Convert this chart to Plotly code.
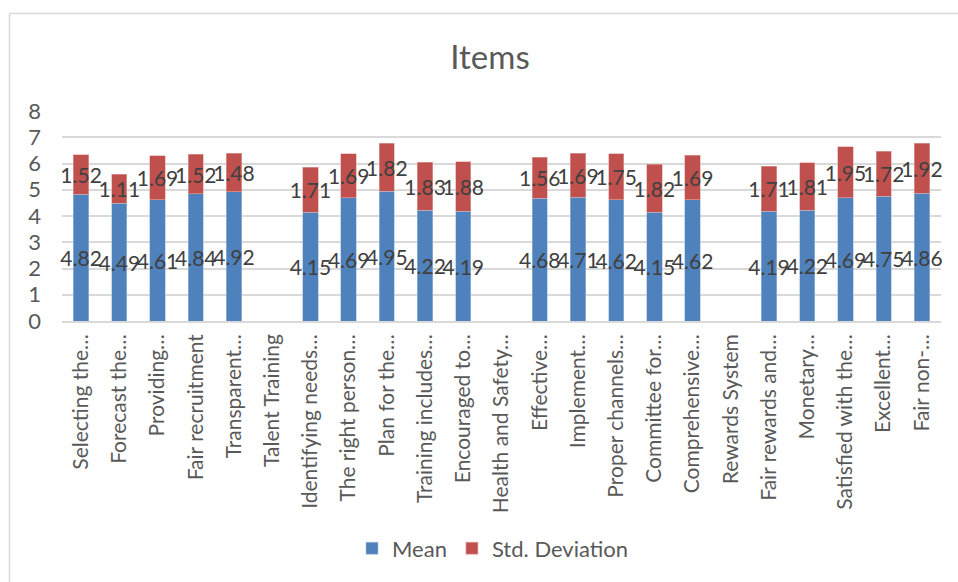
import plotly.graph_objects as go

categories = [
    "Selecting the…", "Forecast the…", "Providing…", "Fair recruitment", "Transparent…",
    "Talent Training", "Identifying needs…", "The right person…", "Plan for the…",
    "Training includes…", "Encouraged to…", "Health and Safety…", "Effective…",
    "Implement…", "Proper channels…", "Committee for…", "Comprehensive…",
    "Rewards System", "Fair rewards and…", "Monetary…", "Satisfied with the…",
    "Excellent…", "Fair non-…",
]
mean = [4.82, 4.49, 4.61, 4.84, 4.92, None, 4.15, 4.69, 4.95, 4.22, 4.19, None,
        4.68, 4.71, 4.62, 4.15, 4.62, None, 4.19, 4.22, 4.69, 4.75, 4.86]
std_dev = [1.52, 1.11, 1.69, 1.52, 1.48, None, 1.71, 1.69, 1.82, 1.83, 1.88, None,
           1.56, 1.69, 1.75, 1.82, 1.69, None, 1.71, 1.81, 1.95, 1.72, 1.92]
y_ticks = [0, 1, 2, 3, 4, 5, 6, 7, 8]

W, H = 958, 582
L, R, T, B = 62, 941, 110.5, 321.5

FONT = "Lato"
LABEL_COLOR = "#404040"
AXIS_COLOR = "#595959"
GRID = "#D9D9D9"
FS = 22
FS_LABEL = 21
FS_CAT = 21


def fmt(v):
    return "" if v is None else str(v)


fig = go.Figure()
fig.add_trace(go.Bar(
    name="Mean", x=categories, y=mean,
    marker=dict(color="#4F81BD", line=dict(width=0.6, color="#A7C0DE")),
    text=[fmt(v) for v in mean], textposition="inside", textangle=0,
    constraintext="none", insidetextanchor="middle",
    insidetextfont=dict(family=FONT, size=FS_LABEL, color=LABEL_COLOR),
    cliponaxis=False,
))
fig.add_trace(go.Bar(
    name="Std. Deviation", x=categories, y=std_dev,
    marker=dict(color="#C0504D", line=dict(width=0.6, color="#E0A8A6")),
    text=[fmt(v) for v in std_dev], textposition="inside", textangle=0,
    constraintext="none", insidetextanchor="middle",
    insidetextfont=dict(family=FONT, size=FS_LABEL, color=LABEL_COLOR),
    cliponaxis=False,
))

px2x = lambda p: (p - L) / (R - L)
px2y = lambda p: (B - p) / (B - T)

fig.add_shape(type="line", xref="paper", yref="paper",
              x0=px2x(9.5), x1=px2x(9.5), y0=px2y(12.5), y1=px2y(H + 5),
              line=dict(color=GRID, width=1.5))
fig.add_shape(type="line", xref="paper", yref="paper",
              x0=px2x(9.5), x1=px2x(W + 5), y0=px2y(12.5), y1=px2y(12.5),
              line=dict(color=GRID, width=1.5))

fig.update_layout(
    width=W, height=H,
    margin=dict(l=L, r=W - R, t=T, b=H - B),
    barmode="stack", bargap=0.6,
    paper_bgcolor="white", plot_bgcolor="white",
    font=dict(family=FONT, size=FS, color=AXIS_COLOR),
    title=dict(text="Items", x=490 / W, xanchor="center", y=1 - 57 / H, yanchor="middle",
               yref="container", font=dict(family=FONT, size=33, color=AXIS_COLOR)),
    legend=dict(orientation="h", x=px2x(493), xanchor="center", y=px2y(550), yanchor="middle",
                font=dict(family=FONT, size=FS, color=AXIS_COLOR), traceorder="normal",
                itemwidth=30),
    showlegend=True,
)
fig.update_xaxes(
    type="category", tickangle=-90, showgrid=False, ticks="", showline=True,
    linecolor=GRID, linewidth=1.5, tickfont=dict(family=FONT, size=FS_CAT, color=AXIS_COLOR),
    ticklabelstandoff=3,
)
fig.update_yaxes(
    range=[0, 8], tickvals=y_ticks, showgrid=True, gridcolor=GRID, gridwidth=1.5,
    zeroline=False, showline=False, ticks="",
    tickfont=dict(family=FONT, size=FS, color=AXIS_COLOR), ticklabelstandoff=20,
)

fig.write_html("out.html")
